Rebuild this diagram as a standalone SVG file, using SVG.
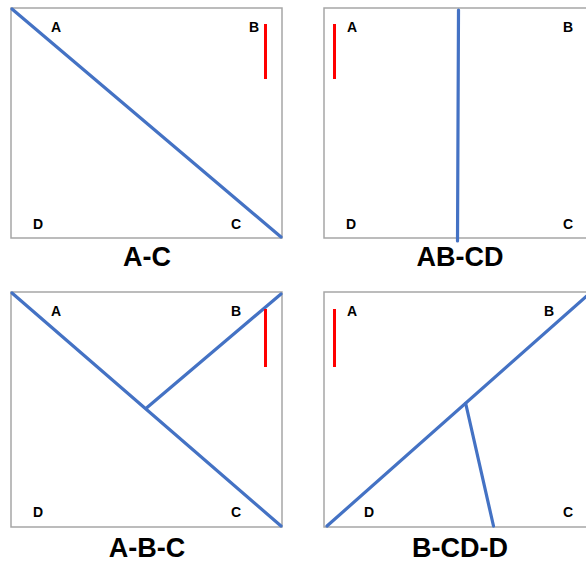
<svg xmlns="http://www.w3.org/2000/svg" width="586" height="564" viewBox="0 0 586 564">
<style>
.frame{fill:#fff;stroke:#a6a6a6;stroke-width:1.5}
.cut{stroke:#4472c4;stroke-width:3.2;fill:none;stroke-linecap:round}
.mark{stroke:#ff0000;stroke-width:3;fill:none}
.lbl{font-family:"Liberation Sans",Arial,sans-serif;font-weight:bold;font-size:14px;text-anchor:middle;fill:#000}
.ttl{font-family:"Liberation Sans",Arial,sans-serif;font-weight:bold;font-size:27px;text-anchor:middle;fill:#000}
</style>
<rect width="586" height="564" fill="#fff"/>
<g id="panel-AC">
<rect class="frame" x="11" y="8" width="271" height="230"/>
<text class="lbl" x="56" y="32">A</text>
<text class="lbl" x="254" y="32">B</text>
<text class="lbl" x="38" y="229">D</text>
<text class="lbl" x="236" y="229">C</text>
<text class="ttl" x="147" y="266">A-C</text>
</g>
<g id="panel-ABCD">
<rect class="frame" x="324" y="8" width="270" height="230"/>
<text class="lbl" x="352" y="32">A</text>
<text class="lbl" x="568" y="32">B</text>
<text class="lbl" x="351" y="229">D</text>
<text class="lbl" x="568" y="229">C</text>
<text class="ttl" x="460" y="266">AB-CD</text>
</g>
<g id="panel-ABC">
<rect class="frame" x="11" y="292" width="271" height="235"/>
<text class="lbl" x="56" y="316">A</text>
<text class="lbl" x="236" y="316">B</text>
<text class="lbl" x="38" y="517">D</text>
<text class="lbl" x="236" y="517">C</text>
<text class="ttl" x="147" y="557">A-B-C</text>
</g>
<g id="panel-BCDD">
<rect class="frame" x="324" y="292" width="270" height="235"/>
<text class="lbl" x="352" y="316">A</text>
<text class="lbl" x="549" y="316">B</text>
<text class="lbl" x="369" y="517">D</text>
<text class="lbl" x="568" y="517">C</text>
<text class="ttl" x="460" y="557">B-CD-D</text>
</g>
<g id="connectors">
<line class="cut" x1="12" y1="9" x2="281" y2="237"/>
<line class="mark" x1="265.5" y1="24" x2="265.5" y2="79"/>
<line class="cut" x1="458.5" y1="10" x2="457.5" y2="241"/>
<line class="mark" x1="334.5" y1="24" x2="334.5" y2="79"/>
<line class="cut" x1="12" y1="293" x2="281" y2="526"/>
<line class="cut" x1="281" y1="294" x2="146.5" y2="408"/>
<line class="mark" x1="265.5" y1="309" x2="265.5" y2="367"/>
<line class="cut" x1="327" y1="526" x2="590" y2="293"/>
<line class="cut" x1="465.7" y1="403.5" x2="493.5" y2="526"/>
<line class="mark" x1="334.5" y1="309" x2="334.5" y2="367"/>
</g>
</svg>
